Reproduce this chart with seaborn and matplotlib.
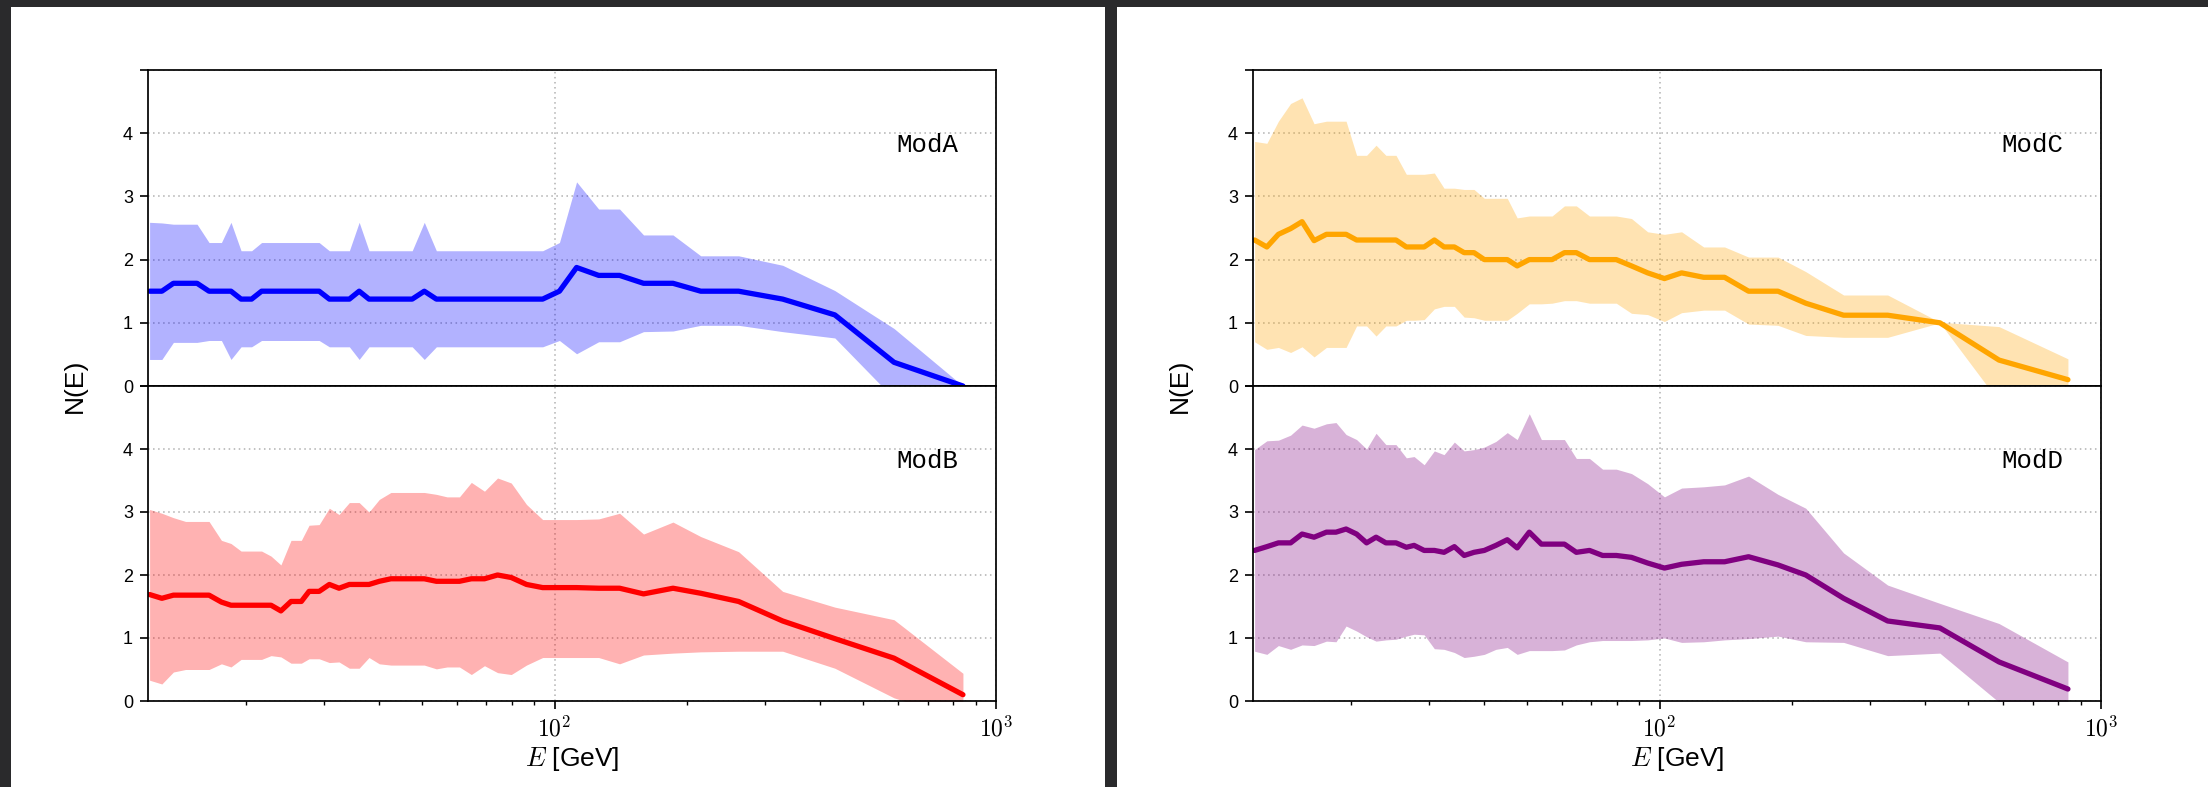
import numpy as np
import matplotlib
matplotlib.use('Agg')
import matplotlib.pyplot as plt
from matplotlib.patches import Rectangle
from matplotlib.ticker import LogLocator, FuncFormatter, NullFormatter
import seaborn as sns

# ---------------- data ----------------
E = [12.1, 12.9, 13.7, 14.6, 15.5, 16.5, 17.6, 18.5, 19.5, 20.6, 21.7, 22.8,
     24.0, 25.3, 26.7, 27.8, 29.3, 30.9, 32.5, 34.3, 36.1, 38.0, 40.1, 42.6,
     45.2, 47.6, 50.7, 54.0, 57.1, 60.9, 64.8, 69.4, 74.3, 79.8, 86.4, 94.0,
     102.6, 112.2, 125.9, 140.4, 159.1, 185.5, 214.4, 261.2, 328.7, 431.5,
     587.5, 841.6]

modA_mean = [1.5, 1.5, 1.625, 1.625, 1.625, 1.5, 1.5, 1.5, 1.375, 1.375,
             1.5, 1.5, 1.5, 1.5, 1.5, 1.5, 1.5, 1.375, 1.375, 1.375, 1.5,
             1.375, 1.375, 1.375, 1.375, 1.375, 1.5, 1.375, 1.375, 1.375,
             1.375, 1.375, 1.375, 1.375, 1.375, 1.375, 1.5, 1.875, 1.75, 1.75,
             1.625, 1.625, 1.5, 1.5, 1.375, 1.125, 0.375, 0.0]
modA_hi = [2.59, 2.58, 2.56, 2.56, 2.56, 2.27, 2.27, 2.59, 2.14, 2.14,
           2.27, 2.27, 2.27, 2.27, 2.27, 2.27, 2.27, 2.14, 2.14, 2.14, 2.59,
           2.14, 2.14, 2.14, 2.14, 2.14, 2.59, 2.14, 2.14, 2.14, 2.14, 2.14,
           2.14, 2.14, 2.14, 2.14, 2.27, 3.23, 2.80, 2.80, 2.39, 2.39, 2.06,
           2.06, 1.91, 1.51, 0.91, 0.0]
modA_lo = [0.42, 0.42, 0.69, 0.69, 0.69, 0.72, 0.72, 0.42, 0.62, 0.62,
           0.72, 0.72, 0.72, 0.72, 0.72, 0.72, 0.72, 0.62, 0.62, 0.62, 0.42,
           0.62, 0.62, 0.62, 0.62, 0.62, 0.42, 0.62, 0.62, 0.62, 0.62, 0.62,
           0.62, 0.62, 0.62, 0.62, 0.72, 0.51, 0.70, 0.70, 0.86, 0.87, 0.96,
           0.96, 0.86, 0.76, -0.2, -0.3]

modB_mean = [1.69, 1.63, 1.68, 1.68, 1.68, 1.68, 1.57, 1.52, 1.52, 1.52,
             1.52, 1.52, 1.43, 1.58, 1.58, 1.74, 1.74, 1.85, 1.79, 1.85, 1.85,
             1.85, 1.90, 1.94, 1.94, 1.94, 1.94, 1.90, 1.90, 1.90, 1.94, 1.94,
             2.0, 1.96, 1.85, 1.80, 1.80, 1.80, 1.79, 1.79, 1.70, 1.79, 1.71,
             1.58, 1.27, 0.99, 0.68, 0.10]
modB_hi = [3.04, 2.98, 2.91, 2.85, 2.85, 2.85, 2.55, 2.50, 2.38, 2.38,
           2.38, 2.30, 2.16, 2.55, 2.55, 2.79, 2.80, 3.06, 2.96, 3.15, 3.15,
           3.00, 3.20, 3.31, 3.31, 3.31, 3.31, 3.28, 3.24, 3.24, 3.47, 3.33,
           3.54, 3.46, 3.12, 2.88, 2.88, 2.88, 2.89, 2.98, 2.65, 2.84, 2.61,
           2.37, 1.74, 1.49, 1.29, 0.44]
modB_lo = [0.33, 0.27, 0.46, 0.50, 0.50, 0.50, 0.59, 0.54, 0.66, 0.66,
           0.66, 0.72, 0.70, 0.60, 0.60, 0.67, 0.67, 0.61, 0.62, 0.52, 0.52,
           0.69, 0.59, 0.57, 0.57, 0.57, 0.57, 0.51, 0.54, 0.54, 0.42, 0.56,
           0.45, 0.42, 0.57, 0.69, 0.69, 0.69, 0.69, 0.59, 0.73, 0.76, 0.78,
           0.79, 0.79, 0.52, 0.05, -0.3]

modC_mean = [2.31, 2.20, 2.40, 2.49, 2.60, 2.30, 2.40, 2.40, 2.40, 2.31,
             2.31, 2.31, 2.31, 2.31, 2.20, 2.20, 2.20, 2.31, 2.20, 2.20, 2.11,
             2.11, 2.0, 2.0, 2.0, 1.90, 2.0, 2.0, 2.0, 2.11, 2.11, 2.0, 2.0,
             2.0, 1.90, 1.79, 1.70, 1.79, 1.72, 1.72, 1.50, 1.50, 1.31, 1.12,
             1.12, 1.00, 0.41, 0.10]
modC_hi = [3.87, 3.84, 4.19, 4.47, 4.56, 4.15, 4.19, 4.19, 4.19, 3.65,
           3.65, 3.81, 3.65, 3.65, 3.35, 3.35, 3.35, 3.37, 3.13, 3.13, 3.11,
           3.11, 2.97, 2.97, 2.97, 2.66, 2.69, 2.69, 2.69, 2.85, 2.85, 2.69,
           2.69, 2.69, 2.65, 2.44, 2.40, 2.44, 2.20, 2.20, 2.04, 2.04, 1.81,
           1.44, 1.44, 1.01, 0.94, 0.43]
modC_lo = [0.70, 0.58, 0.61, 0.53, 0.62, 0.46, 0.61, 0.61, 0.61, 0.95,
           0.95, 0.79, 0.95, 0.95, 1.04, 1.04, 1.05, 1.22, 1.26, 1.26, 1.09,
           1.08, 1.04, 1.04, 1.04, 1.15, 1.30, 1.30, 1.31, 1.35, 1.35, 1.31,
           1.31, 1.31, 1.15, 1.13, 1.02, 1.16, 1.20, 1.20, 0.98, 0.96, 0.80,
           0.77, 0.77, 1.00, -0.25, -0.3]

modD_mean = [2.39, 2.45, 2.51, 2.51, 2.65, 2.60, 2.68, 2.68, 2.73, 2.65,
             2.51, 2.60, 2.51, 2.51, 2.44, 2.47, 2.39, 2.39, 2.36, 2.45, 2.31,
             2.36, 2.39, 2.47, 2.56, 2.43, 2.68, 2.49, 2.49, 2.49, 2.36, 2.39,
             2.31, 2.31, 2.28, 2.19, 2.11, 2.17, 2.21, 2.21, 2.29, 2.16, 2.0,
             1.63, 1.27, 1.16, 0.62, 0.19]
modD_hi = [3.99, 4.13, 4.14, 4.22, 4.38, 4.33, 4.40, 4.42, 4.23, 4.15,
           4.00, 4.25, 4.07, 4.07, 3.86, 3.88, 3.75, 3.97, 3.91, 4.11, 3.97,
           3.99, 4.03, 4.12, 4.26, 4.15, 4.56, 4.15, 4.15, 4.15, 3.85, 3.85,
           3.68, 3.68, 3.61, 3.45, 3.24, 3.38, 3.40, 3.43, 3.57, 3.28, 3.06,
           2.35, 1.84, 1.55, 1.23, 0.62]
modD_lo = [0.79, 0.74, 0.88, 0.82, 0.89, 0.88, 0.95, 0.94, 1.19, 1.11,
           1.02, 0.95, 0.97, 0.98, 1.03, 1.06, 1.05, 0.83, 0.82, 0.77, 0.69,
           0.71, 0.74, 0.82, 0.85, 0.74, 0.80, 0.80, 0.80, 0.81, 0.89, 0.94,
           0.96, 0.96, 0.96, 0.97, 1.00, 0.93, 0.94, 0.97, 0.99, 1.03, 0.94,
           0.93, 0.72, 0.76, -0.02, -0.3]

labels = ['ModA', 'ModB', 'ModC', 'ModD']
colors = ['blue', 'red', 'orange', 'purple']
series = [(modA_mean, modA_lo, modA_hi), (modB_mean, modB_lo, modB_hi),
          (modC_mean, modC_lo, modC_hi), (modD_mean, modD_lo, modD_hi)]
ytick_vals = [0, 1, 2, 3, 4, 5]
ytick_labels = ['0', '1', '2', '3', '4', '']

# ---------------- style ----------------
sns.set_theme(style='white')
plt.rcParams['font.family'] = ['Liberation Sans', 'DejaVu Sans']
plt.rcParams['mathtext.fontset'] = 'cm'
plt.rcParams['axes.unicode_minus'] = False

W, H = 2208, 787
fig = plt.figure(figsize=(W / 100, H / 100), dpi=100)
fig.patch.set_facecolor('#2a2a2c')

# white "screenshot" panels
for x0, x1 in [(11, 1105), (1117, 2208)]:
    fig.add_artist(Rectangle((x0 / W, 0), (x1 - x0) / W, (H - 7) / H,
                             transform=fig.transFigure, facecolor='white',
                             edgecolor='none', zorder=-5))


def add_ax(l, t, r, b):
    return fig.add_axes([l / W, 1 - b / H, (r - l) / W, (b - t) / H])


def style_ax(ax, bottom):
    ax.set_xscale('log')
    ax.set_xlim(12, 1000)
    ax.set_ylim(0, 5)
    ax.set_facecolor('white')
    ax.set_yticks(ytick_vals)
    ax.set_yticklabels(ytick_labels)
    ax.xaxis.set_major_locator(LogLocator(base=10))
    ax.xaxis.set_minor_locator(LogLocator(base=10, subs=np.arange(2, 10)))
    ax.xaxis.set_minor_formatter(NullFormatter())
    ax.grid(True, which='major', color='#b0b0b0',
            linestyle=(0, (1.0, 2.3)), linewidth=1.1)
    ax.grid(False, which='minor')
    for s in ax.spines.values():
        s.set_visible(True)
        s.set_color('black')
        s.set_linewidth(1.25)
    ax.tick_params(axis='y', which='major', direction='out', length=5.8,
                   width=1.2, color='black', labelsize=13, pad=5,
                   labelcolor='black', left=True, right=False)
    if bottom:
        ax.xaxis.set_major_formatter(
            FuncFormatter(lambda v, p: r'$10^{%d}$' % int(round(np.log10(v)))))
        ax.tick_params(axis='x', which='major', direction='out', length=5.8,
                       width=1.2, color='black', labelsize=17, pad=5,
                       labelcolor='black', bottom=True, top=False)
        ax.tick_params(axis='x', which='minor', direction='out', length=3.0,
                       width=1.0, color='black', bottom=True, top=False)
        ax.set_xlabel(r'$E$ [GeV]', fontsize=19, color='black')
        ax.xaxis.set_label_coords(0.5, -0.14)
    else:
        ax.tick_params(axis='x', which='both', bottom=False, top=False,
                       labelbottom=False)


panel_offsets = [0, 1105]
k = 0
for off in panel_offsets:
    ax_top = add_ax(148 + off, 70, 996 + off, 386)
    ax_bot = add_ax(148 + off, 386, 996 + off, 701)
    for ax, bottom in [(ax_top, False), (ax_bot, True)]:
        mean, lo, hi = series[k]
        c = colors[k]
        ax.fill_between(E, lo, hi, color=c, alpha=0.3, linewidth=0)
        sns.lineplot(x=E, y=mean, ax=ax, color=c, linewidth=3.8,
                     estimator=None, sort=False)
        style_ax(ax, bottom)
        ax.set_ylabel('')
        if not bottom:
            ax.set_xlabel('')
        ax.text(0.956, 0.80, labels[k], transform=ax.transAxes, ha='right',
                va='top', fontsize=18.5, family='Liberation Mono',
                color='black')
        k += 1
    fig.text((75 + off) / W, 1 - 386 / H, 'N(E)', rotation=90, ha='center',
             va='center', fontsize=19, color='black')

fig.savefig('out.png', dpi=100, facecolor=fig.get_facecolor())
